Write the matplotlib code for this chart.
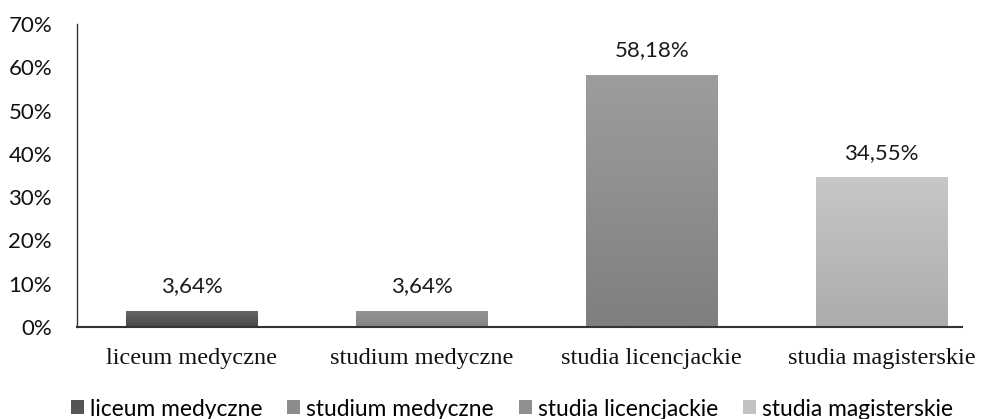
import numpy as np
import matplotlib.pyplot as plt
from matplotlib.patches import Patch

categories = ["liceum medyczne", "studium medyczne", "studia licencjackie", "studia magisterskie"]
values = [3.64, 3.64, 58.18, 34.55]
labels = ["3,64%", "3,64%", "58,18%", "34,55%"]
# top / bottom shade of each bar
top_colors = ["#676767", "#929292", "#9d9d9d", "#c7c7c7"]
bottom_colors = ["#474747", "#858585", "#7f7f7f", "#acacac"]
legend_colors = ["#555555", "#8c8c8c", "#8f8f8f", "#c2c2c2"]

sans = "Lato"
serif = "Liberation Serif"

fig = plt.figure(figsize=(9.85, 4.19), dpi=100)
ax = fig.add_axes([77 / 985, 1 - 327 / 419, (962 - 77) / 985, (327 - 24) / 419])

x = np.arange(len(categories))
width = 0.574
bars = ax.bar(x, values, width, color="none", edgecolor="none", zorder=2)


def hex_rgb(c):
    c = c.lstrip("#")
    return np.array([int(c[i:i + 2], 16) / 255 for i in (0, 2, 4)])


for b, top, bot in zip(bars, top_colors, bottom_colors):
    t = np.linspace(0, 1, 64)[:, None]
    grad = (1 - t) * hex_rgb(top) + t * hex_rgb(bot)
    img = np.repeat(grad[:, None, :], 2, axis=1)
    x0, y0 = b.get_x(), b.get_y()
    im = ax.imshow(img, extent=[x0, x0 + b.get_width(), y0, y0 + b.get_height()],
                   aspect="auto", zorder=2, interpolation="bilinear")
    im.set_clip_path(b)

for xi, v, lab in zip(x, values, labels):
    ax.text(xi, v + 3.4, lab, ha="center", va="bottom", fontsize=16,
            family=sans, color="#1a1a1a")

ax.set_xlim(-0.5, 3.35)
ax.set_ylim(0, 70)
ax.set_yticks(np.arange(0, 71, 10))
ax.set_yticklabels([f"{v}%" for v in range(0, 71, 10)], family=sans, fontsize=16)
ax.set_xticks(x)
ax.set_xticklabels(categories, family=serif, fontsize=17.5)
ax.tick_params(axis="both", length=0, colors="#111111")
ax.tick_params(axis="y", pad=18)
ax.tick_params(axis="x", pad=15)
for s in ["top", "right"]:
    ax.spines[s].set_visible(False)
ax.spines["left"].set_color("#333333")
ax.spines["bottom"].set_color("#333333")
ax.spines["left"].set_linewidth(1.0)
ax.spines["bottom"].set_linewidth(1.5)

handles = [Patch(facecolor=c, edgecolor="none") for c in legend_colors]
fig.legend(handles, categories, loc="center", bbox_to_anchor=(512 / 985, 1 - 409 / 419),
           ncol=4, frameon=False, prop={"family": sans, "size": 16.4},
           handlelength=0.57, handleheight=0.57, handletextpad=0.26,
           columnspacing=1.1, borderpad=0, borderaxespad=0)

fig.savefig("out.png", dpi=100)
